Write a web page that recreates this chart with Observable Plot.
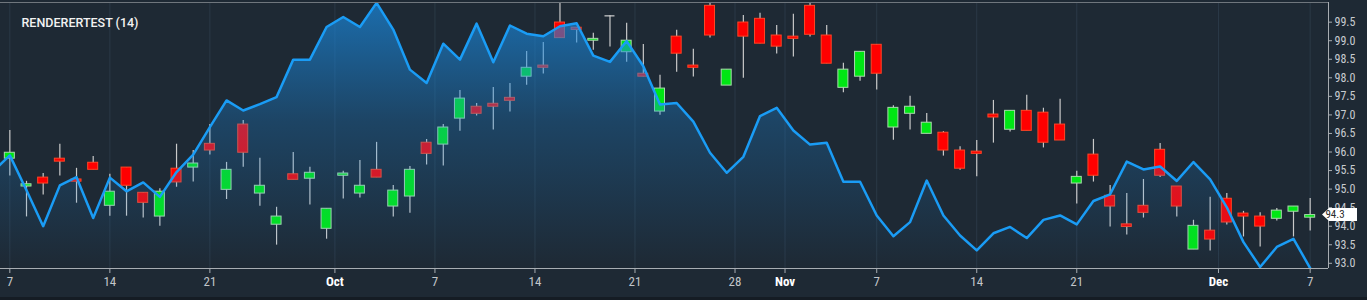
<!DOCTYPE html>
<html><head><meta charset="utf-8">
<script src="https://cdn.jsdelivr.net/npm/d3@7"></script>
<script src="https://cdn.jsdelivr.net/npm/@observablehq/plot@0.6"></script>
<style>
html,body{margin:0;padding:0;background:#151c24;}
#chart{width:1367px;height:297px;background:#1e2934;}
</style></head><body><div id="chart"></div>
<script>
const chartTitle = "RENDERERTEST (14)";
const opens = [95.82,95.07,95.31,95.82,95.26,95.71,94.55,95.58,94.90,94.26,95.55,95.58,96.22,94.98,96.74,94.88,94.04,95.40,95.28,93.93,95.36,94.88,95.52,94.53,94.80,96.25,96.20,96.90,97.22,97.30,97.46,98.03,98.33,99.49,99.35,99.00,99.67,98.69,98.11,97.09,99.11,98.33,99.94,97.79,99.49,99.59,99.14,99.11,99.94,99.14,97.73,98.03,98.89,96.66,97.03,96.49,96.52,96.04,96.01,97.01,96.60,97.11,97.06,96.74,95.15,95.93,94.82,94.05,94.55,96.06,95.07,93.37,93.88,94.74,94.34,94.26,94.20,94.39,94.23];
const highs = [96.58,95.21,95.42,96.21,95.56,95.88,95.40,95.58,94.90,95.01,96.21,96.04,96.74,95.72,96.85,95.83,94.51,95.99,95.59,94.47,95.48,95.77,96.26,95.10,95.61,96.34,96.74,97.66,97.31,97.74,97.85,98.71,98.95,100.10,99.35,99.20,99.67,99.47,98.90,98.07,99.28,98.77,100.10,98.22,99.68,99.74,99.41,99.71,100.10,99.41,98.39,98.70,98.89,97.25,97.50,97.04,96.55,96.14,96.31,97.39,97.11,97.53,97.18,97.42,95.48,96.34,95.10,94.88,95.26,96.23,95.07,94.16,94.78,94.88,94.40,94.36,94.48,94.53,94.75];
const lows = [95.35,94.25,94.84,95.35,94.62,95.52,94.27,94.27,94.22,94.00,95.05,95.19,95.92,94.72,95.59,94.54,93.49,95.25,94.57,93.65,94.73,94.76,95.31,94.25,94.35,95.65,95.62,96.56,96.97,96.59,97.08,97.80,98.10,99.07,98.94,98.74,98.83,98.42,98.03,96.99,98.15,98.02,99.07,97.79,97.99,98.92,98.64,98.56,99.10,98.38,97.60,97.91,97.67,96.32,96.59,96.49,95.89,95.51,95.33,96.24,96.54,96.57,96.11,96.31,94.60,95.19,93.98,93.76,94.22,95.31,94.25,93.37,93.33,94.03,93.71,93.44,94.14,93.71,93.87];
const closes = [95.98,95.13,95.15,95.74,95.20,95.52,94.93,95.09,94.63,94.93,95.18,95.69,96.04,95.52,95.98,95.09,94.26,95.25,95.44,94.47,95.42,95.09,95.31,94.96,95.52,95.95,96.66,97.44,97.03,97.22,97.38,98.27,98.27,99.07,99.29,99.05,99.67,99.00,98.03,97.71,98.65,98.27,99.14,98.22,99.11,98.92,98.84,99.05,99.16,98.38,98.22,98.70,98.11,97.19,97.22,96.79,96.04,95.55,95.95,96.93,97.11,96.57,96.25,96.31,95.33,95.36,94.53,93.98,94.36,95.36,94.53,94.01,93.64,94.10,94.26,93.99,94.42,94.53,94.30];
// line series, first value sits one bar before the first candle
const lineValues = [95.48,95.91,94.97,94.00,95.10,95.32,94.22,95.31,94.94,95.18,94.79,95.46,95.93,96.67,97.39,97.12,97.29,97.48,98.49,98.49,99.37,99.64,99.37,100.02,99.30,98.22,97.86,98.92,98.49,99.46,98.42,99.41,99.19,99.12,99.39,99.47,98.60,98.43,98.99,98.31,97.28,97.32,96.82,95.98,95.44,95.87,96.97,97.19,96.58,96.20,96.25,95.20,95.20,94.29,93.73,94.11,95.23,94.29,93.75,93.35,93.81,93.98,93.68,94.17,94.29,94.05,94.68,94.86,95.74,95.53,95.61,95.22,95.73,95.26,94.51,93.57,92.90,93.44,93.66,92.87];
const xTickPositions = [0,6,12,19.5,25.5,31.5,37.5,43.5,46.5,52,58,64,72.5,78];
const xTickLabels = ["7","14","21","Oct","7","14","21","28","Nov","7","14","21","Dec","7"];
const yTicks = [93.0,93.5,94.0,94.5,95.0,95.5,96.0,96.5,97.0,97.5,98.0,98.5,99.0,99.5];

const xDomain = [-0.56, 79.1];
const yDomain = [92.86, 100.03];
const bodyHalf = 0.3;

const candles = opens.map((o, i) => ({i, o, h: highs[i], l: lows[i], c: closes[i],
  dir: closes[i] > o ? "up" : closes[i] < o ? "down" : "flat"}));
const bodies = candles.filter(d => d.dir !== "flat");
const dojis = candles.filter(d => d.dir === "flat");
const lineData = lineValues.map((v, k) => ({i: k - 1, v}));
const xTicks = xTickPositions.map((p, k) => ({p, t: xTickLabels[k], month: isNaN(+xTickLabels[k])}));
const lastClose = closes[closes.length - 1];

const fillOf = {up: "#00e614", down: "#ff0000"};
const strokeOf = {up: "#a9d9ad", down: "#ff4526"};
const narrow = "'Liberation Sans Narrow', 'Roboto Condensed', Roboto, sans-serif";

function gradientDefs() {
  const defs = d3.create("svg:defs");
  const g = defs.append("linearGradient").attr("id", "areaGrad")
    .attr("x1", 0).attr("x2", 0).attr("y1", 0).attr("y2", 1);
  g.append("stop").attr("offset", "0%").attr("stop-color", "#1a8ae0").attr("stop-opacity", 0.7);
  g.append("stop").attr("offset", "45%").attr("stop-color", "#1a8ae0").attr("stop-opacity", 0.28);
  g.append("stop").attr("offset", "100%").attr("stop-color", "#1a8ae0").attr("stop-opacity", 0.0);
  return defs.node();
}

function priceCallout(index, scales, values, dims) {
  const y = scales.y(lastClose);
  const x0 = dims.width - dims.marginRight - 6;
  const g = d3.create("svg:g");
  g.append("path")
    .attr("d", `M${x0},${y} L${x0 + 7},${y - 6.5} H${x0 + 35} V${y + 6.5} H${x0 + 7} Z`)
    .attr("fill", "#ffffff");
  g.append("text").attr("x", x0 + 13).attr("y", y).attr("dy", "0.35em")
    .attr("font-size", 11).attr("font-family", narrow).attr("fill", "#2a2a2a")
    .text(lastClose.toFixed(1));
  return g.node();
}

const chart = Plot.plot({
  width: 1367, height: 297,
  marginTop: 2, marginBottom: 29, marginLeft: 0, marginRight: 39,
  style: {background: "#1e2934", fontFamily: narrow, overflow: "visible"},
  x: {type: "linear", domain: xDomain, axis: null},
  y: {domain: yDomain, axis: null},
  color: {type: "identity"},
  marks: [
    gradientDefs,
    Plot.ruleX(xTickPositions, {stroke: "#2b3947", strokeWidth: 1}),
    Plot.ruleX(candles, {x: "i", y1: "l", y2: "h", stroke: "#c9c9c9", strokeWidth: 1.2, clip: true}),
    Plot.rect(bodies, {x1: d => d.i - bodyHalf, x2: d => d.i + bodyHalf, y1: "o", y2: "c",
      fill: d => fillOf[d.dir], stroke: d => strokeOf[d.dir], strokeWidth: 1, clip: true}),
    Plot.ruleY(dojis, {y: "o", x1: d => d.i - bodyHalf, x2: d => d.i + bodyHalf, stroke: "#d0d0d0", strokeWidth: 1.2}),
    Plot.areaY(lineData, {x: "i", y1: yDomain[0], y2: "v", fill: "url(#areaGrad)", clip: true}),
    Plot.line(lineData, {x: "i", y: "v", stroke: "#1a9cf5", strokeWidth: 2.5, clip: true}),
    Plot.ruleY([yDomain[1]], {stroke: "#6f767d"}),
    Plot.ruleY([yDomain[0]], {stroke: "#a8adb2"}),
    Plot.ruleX([xDomain[1]], {stroke: "#a8adb2"}),
    Plot.axisX({ticks: xTickPositions, tickSize: 5, tickFormat: () => "", stroke: "#a8adb2"}),
    Plot.text(xTicks.filter(d => !d.month), {x: "p", text: "t", frameAnchor: "bottom", dy: 17, fill: "#c2c6ca", fontSize: 13}),
    Plot.text(xTicks.filter(d => d.month), {x: "p", text: "t", frameAnchor: "bottom", dy: 17, fill: "#ffffff", fontSize: 13, fontWeight: "bold"}),
    Plot.axisY({anchor: "right", ticks: yTicks, tickFormat: d => d.toFixed(1), tickSize: 3, tickPadding: 3, fontSize: 12, stroke: "#a8adb2", fill: "#c8cbd0"}),
    priceCallout,
    Plot.text([chartTitle], {text: d => d, frameAnchor: "top-left", dx: 21, dy: 15.5, textAnchor: "start", fill: "#f2f2f2", fontSize: 12.5, fontWeight: 500, fontFamily: "Roboto, sans-serif"})
  ]
});
document.getElementById("chart").appendChild(chart);
</script>
</body></html>
